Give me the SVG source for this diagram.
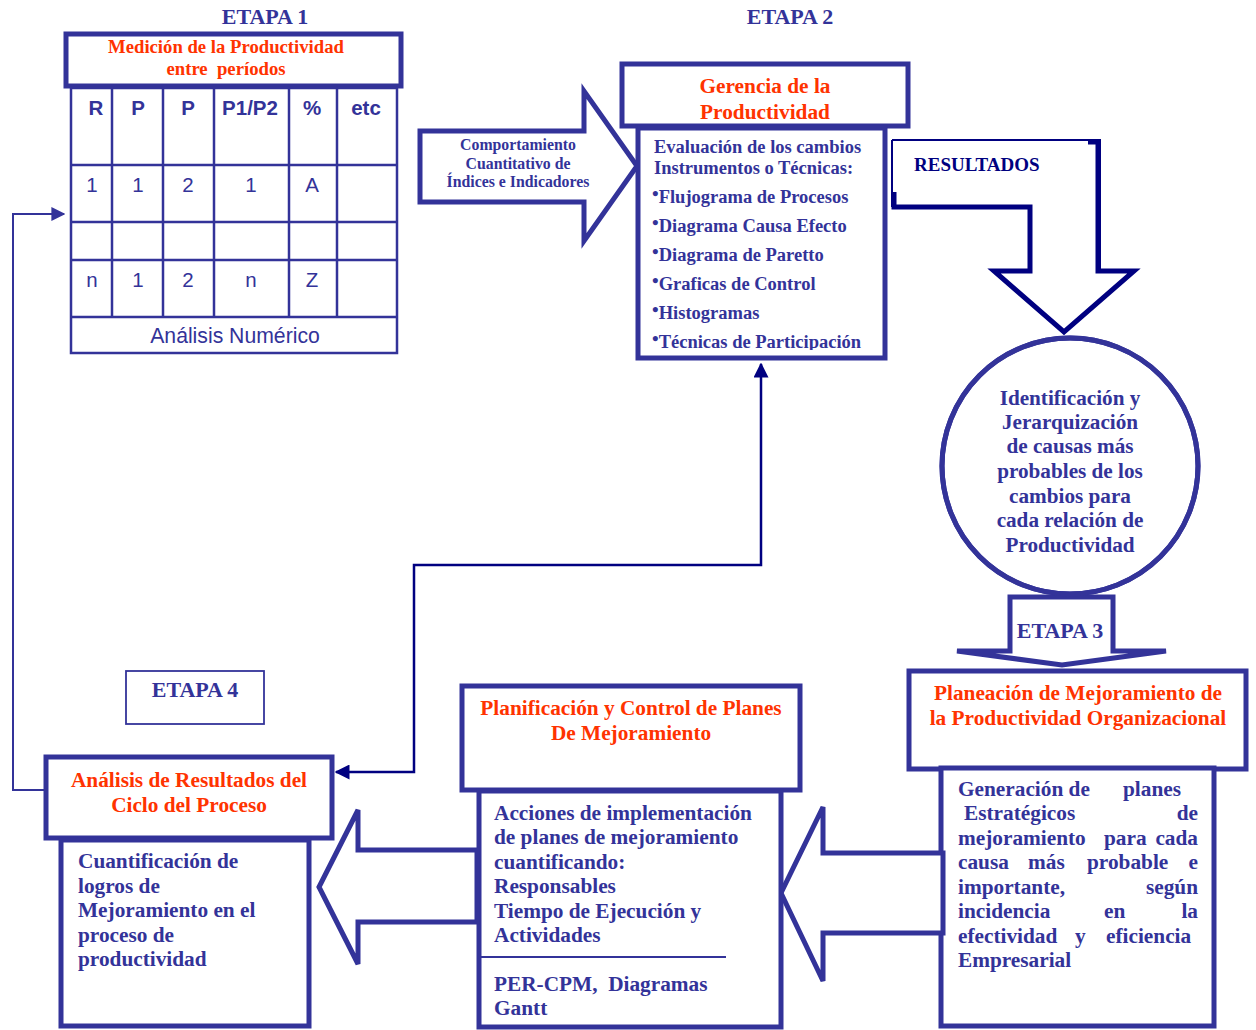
<svg xmlns="http://www.w3.org/2000/svg" width="1256" height="1030" viewBox="0 0 1256 1030">
  <defs>
    <style>
      .box { fill: #ffffff; stroke: #333399; stroke-width: 5; }
      .thin { fill: none; stroke: #333399; stroke-width: 2; }
      .grid { fill: none; stroke: #333399; stroke-width: 2.5; }
      .blk { fill: #ffffff; stroke: #333399; stroke-width: 5; stroke-linejoin: miter; }
      .navy { fill: none; stroke: #000080; stroke-width: 2.5; }
      .serif { font-family: "Liberation Serif", "Times New Roman", serif; font-weight: bold; }
      .sans { font-family: "Liberation Sans", Arial, sans-serif; }
      .red { fill: #ff3300; }
      .blue { fill: #333399; }
      .dk { fill: #000080; }
      .mid { text-anchor: middle; }
      .end { text-anchor: end; }
      .bul { font-size: 19px; }
    </style>
    <marker id="ahNavy" viewBox="0 0 10 10" refX="9" refY="5" markerWidth="6" markerHeight="6" markerUnits="strokeWidth" orient="auto-start-reverse">
      <path d="M0,0 L10,5 L0,10 Z" fill="#000080"/>
    </marker>
    <marker id="ahBlue" viewBox="0 0 10 10" refX="9" refY="5" markerWidth="7" markerHeight="7" markerUnits="strokeWidth" orient="auto">
      <path d="M0,0 L10,5 L0,10 Z" fill="#333399"/>
    </marker>
    <clipPath id="clipGer"><rect x="620" y="62" width="290" height="57"/></clipPath>
    <clipPath id="clipEval"><rect x="636" y="128" width="252" height="222"/></clipPath>
  </defs>

  <rect width="1256" height="1030" fill="#ffffff"/>

  <!-- stage titles -->
  <text class="serif blue mid" x="265" y="24" font-size="22">ETAPA 1</text>
  <text class="serif blue mid" x="790" y="24" font-size="22">ETAPA 2</text>

  <!-- connectors -->
  <g id="connectors">
    <!-- feedback from stage 4 back to the measurement table -->
    <polyline class="thin" points="46,790 13,790 13,214 64,214" marker-end="url(#ahBlue)"/>
    <!-- two-way link between the evaluation box and the results analysis -->
    <polyline class="navy" points="761,364 761,565 414,565 414,772 336,772" marker-start="url(#ahNavy)" marker-end="url(#ahNavy)"/>
  </g>

  <!-- stage 1: measurement table -->
  <g id="medicion">
    <rect class="box" x="66" y="34" width="335" height="52" stroke-width="4.5"/>
    <text class="serif red mid" x="226" y="53" font-size="18.7">Medición de la Productividad</text>
    <text class="serif red mid" x="226" y="75" font-size="18.7" xml:space="preserve">entre  períodos</text>
  </g>
  <g id="tabla">
    <rect class="grid" x="71" y="88" width="326" height="265" stroke-width="4"/>
    <line class="grid" x1="71" y1="165" x2="397" y2="165"/>
    <line class="grid" x1="71" y1="222" x2="397" y2="222"/>
    <line class="grid" x1="71" y1="260" x2="397" y2="260"/>
    <line class="grid" x1="71" y1="317" x2="397" y2="317"/>
    <line class="grid" x1="112" y1="88" x2="112" y2="317" stroke-width="4.5"/>
    <line class="grid" x1="163" y1="88" x2="163" y2="317"/>
    <line class="grid" x1="214" y1="88" x2="214" y2="317"/>
    <line class="grid" x1="289" y1="88" x2="289" y2="317"/>
    <line class="grid" x1="337" y1="88" x2="337" y2="317"/>
    <g class="sans blue mid" font-size="20.5" font-weight="bold">
      <text x="96" y="115">R</text>
      <text x="138" y="115">P</text>
      <text x="188" y="115">P</text>
      <text x="250" y="115">P1/P2</text>
      <text x="312" y="115">%</text>
      <text x="366" y="115">etc</text>
    </g>
    <g class="sans blue mid" font-size="20.5">
      <text x="92" y="192">1</text>
      <text x="138" y="192">1</text>
      <text x="188" y="192">2</text>
      <text x="251" y="192">1</text>
      <text x="312" y="192">A</text>
      <text x="92" y="287">n</text>
      <text x="138" y="287">1</text>
      <text x="188" y="287">2</text>
      <text x="251" y="287">n</text>
      <text x="312" y="287">Z</text>
      <text x="235" y="343" font-size="21.2">Análisis Numérico</text>
    </g>
  </g>

  <!-- block arrow into stage 2 -->
  <g id="comportamiento">
    <polygon class="blk" points="420,131 584,131 584,91 637,166 584,241 584,202 420,202"/>
    <text class="serif blue mid" x="518" y="150" font-size="15.8">Comportamiento</text>
    <text class="serif blue mid" x="518" y="169" font-size="15.8">Cuantitativo de</text>
    <text class="serif blue mid" x="518" y="187" font-size="15.8">Índices e Indicadores</text>
  </g>

  <!-- stage 2 -->
  <g id="gerencia">
    <rect class="box" x="622" y="64" width="286" height="62"/>
    <g clip-path="url(#clipGer)">
      <text class="serif red mid" x="765" y="93" font-size="21.3">Gerencia de la</text>
      <text class="serif red mid" x="765" y="119" font-size="21.3">Productividad</text>
    </g>
  </g>
  <g id="evaluacion">
    <rect class="box" x="638" y="128" width="247" height="230"/>
    <g clip-path="url(#clipEval)" class="serif blue" font-size="18.5">
      <text x="654" y="153">Evaluación de los cambios</text>
      <text x="654" y="174">Instrumentos o Técnicas:</text>
      <text x="652" y="203"><tspan class="bul" dy="-3">•</tspan><tspan dy="3">Flujograma de Procesos</tspan></text>
      <text x="652" y="232"><tspan class="bul" dy="-3">•</tspan><tspan dy="3">Diagrama Causa Efecto</tspan></text>
      <text x="652" y="261"><tspan class="bul" dy="-3">•</tspan><tspan dy="3">Diagrama de Paretto</tspan></text>
      <text x="652" y="290"><tspan class="bul" dy="-3">•</tspan><tspan dy="3">Graficas de Control</tspan></text>
      <text x="652" y="319"><tspan class="bul" dy="-3">•</tspan><tspan dy="3">Histogramas</tspan></text>
      <text x="652" y="348"><tspan class="bul" dy="-3">•</tspan><tspan dy="3">Técnicas de Participación</tspan></text>
    </g>
  </g>

  <!-- results arrow -->
  <g id="resultados">
    <polyline fill="#ffffff" stroke="#000080" stroke-width="2" points="892,140 1100,140 1100,270 1136,270 1064,333 994,270 1030,270 1030,206 892,206 892,140"/>
    <polyline fill="none" stroke="#000080" stroke-width="5" stroke-linejoin="miter" points="1088,142 1098,142 1098,271 1134,271 1064,332 994,271 1030,271 1030,207 894,207 894,192"/>
    <text class="serif dk" x="914" y="171" font-size="19">RESULTADOS</text>
  </g>

  <!-- cause identification -->
  <g id="identificacion">
    <circle cx="1070" cy="466" r="128" fill="#ffffff" stroke="#333399" stroke-width="5"/>
    <g class="serif blue mid" font-size="21.2">
      <text x="1070" y="405">Identificación y</text>
      <text x="1070" y="429">Jerarquización</text>
      <text x="1070" y="453">de causas más</text>
      <text x="1070" y="478">probables de los</text>
      <text x="1070" y="503">cambios para</text>
      <text x="1070" y="527">cada relación de</text>
      <text x="1070" y="552">Productividad</text>
    </g>
  </g>

  <!-- stage 3 arrow -->
  <g id="etapa3">
    <polygon class="blk" points="1010,597 1113,597 1113,651 1166,651 1062,665 957,651 1010,651"/>
    <circle cx="1070" cy="466" r="128" fill="none" stroke="#333399" stroke-width="5"/>
    <text class="serif blue mid" x="1060" y="638" font-size="22">ETAPA 3</text>
  </g>

  <!-- stage 3 boxes -->
  <g id="planeacion">
    <rect class="box" x="909" y="671" width="337" height="98"/>
    <text class="serif red mid" x="1078" y="700" font-size="21.3">Planeación de Mejoramiento de</text>
    <text class="serif red mid" x="1078" y="725" font-size="21.3">la Productividad Organizacional</text>
  </g>
  <g id="generacion">
    <rect class="box" x="941" y="768" width="273" height="258"/>
    <g class="serif blue" font-size="21.3">
      <text x="958" y="796">Generación de</text>
      <text x="1123" y="796">planes</text>
      <text x="964" y="820">Estratégicos</text>
      <text class="end" x="1198" y="820">de</text>
      <text x="958" y="845">mejoramiento</text>
      <text x="1104" y="845">para</text>
      <text class="end" x="1198" y="845">cada</text>
      <text x="958" y="869">causa</text>
      <text x="1028" y="869">más</text>
      <text x="1087" y="869">probable</text>
      <text class="end" x="1198" y="869">e</text>
      <text x="958" y="894">importante,</text>
      <text class="end" x="1198" y="894">según</text>
      <text x="958" y="918">incidencia</text>
      <text x="1104" y="918">en</text>
      <text class="end" x="1198" y="918">la</text>
      <text x="958" y="943">efectividad</text>
      <text x="1075" y="943">y</text>
      <text x="1106" y="943">eficiencia</text>
      <text x="958" y="967">Empresarial</text>
    </g>
  </g>

  <!-- arrow from stage 3 to planning control -->
  <polygon id="flecha3a2" class="blk" points="943,853 823,853 823,807 781,893 823,981 823,933 943,933"/>

  <!-- planning and control -->
  <g id="planificacion">
    <rect class="box" x="462" y="686" width="338" height="104"/>
    <text class="serif red mid" x="631" y="715" font-size="21.3">Planificación y Control de Planes</text>
    <text class="serif red mid" x="631" y="740" font-size="21.3">De Mejoramiento</text>
  </g>
  <g id="acciones">
    <rect class="box" x="479" y="791" width="302" height="236"/>
    <line class="thin" x1="479" y1="957" x2="726" y2="957"/>
    <g class="serif blue" font-size="21.3">
      <text x="494" y="820">Acciones de implementación</text>
      <text x="494" y="844">de planes de mejoramiento</text>
      <text x="494" y="869">cuantificando:</text>
      <text x="494" y="893">Responsables</text>
      <text x="494" y="918">Tiempo de Ejecución y</text>
      <text x="494" y="942">Actividades</text>
      <text x="494" y="991" xml:space="preserve">PER-CPM,  Diagramas</text>
      <text x="494" y="1015">Gantt</text>
    </g>
  </g>

  <!-- arrow from planning control to stage 4 -->
  <polygon id="flecha2a4" class="blk" points="477,850 358,850 358,810 319,887 358,964 358,922 477,922"/>

  <!-- stage 4 -->
  <g id="etapa4">
    <rect x="126" y="671" width="138" height="53" fill="#ffffff" stroke="#333399" stroke-width="1.8"/>
    <text class="serif blue mid" x="195" y="697" font-size="22">ETAPA 4</text>
  </g>
  <g id="analisis">
    <rect class="box" x="46" y="757" width="286" height="81"/>
    <text class="serif red mid" x="189" y="787" font-size="21.3">Análisis de Resultados del</text>
    <text class="serif red mid" x="189" y="812" font-size="21.3">Ciclo del Proceso</text>
  </g>
  <g id="cuantificacion">
    <rect class="box" x="61" y="840" width="248" height="186"/>
    <g class="serif blue" font-size="21.3">
      <text x="78" y="868">Cuantificación de</text>
      <text x="78" y="893">logros de</text>
      <text x="78" y="917">Mejoramiento en el</text>
      <text x="78" y="942">proceso de</text>
      <text x="78" y="966">productividad</text>
    </g>
  </g>
</svg>
